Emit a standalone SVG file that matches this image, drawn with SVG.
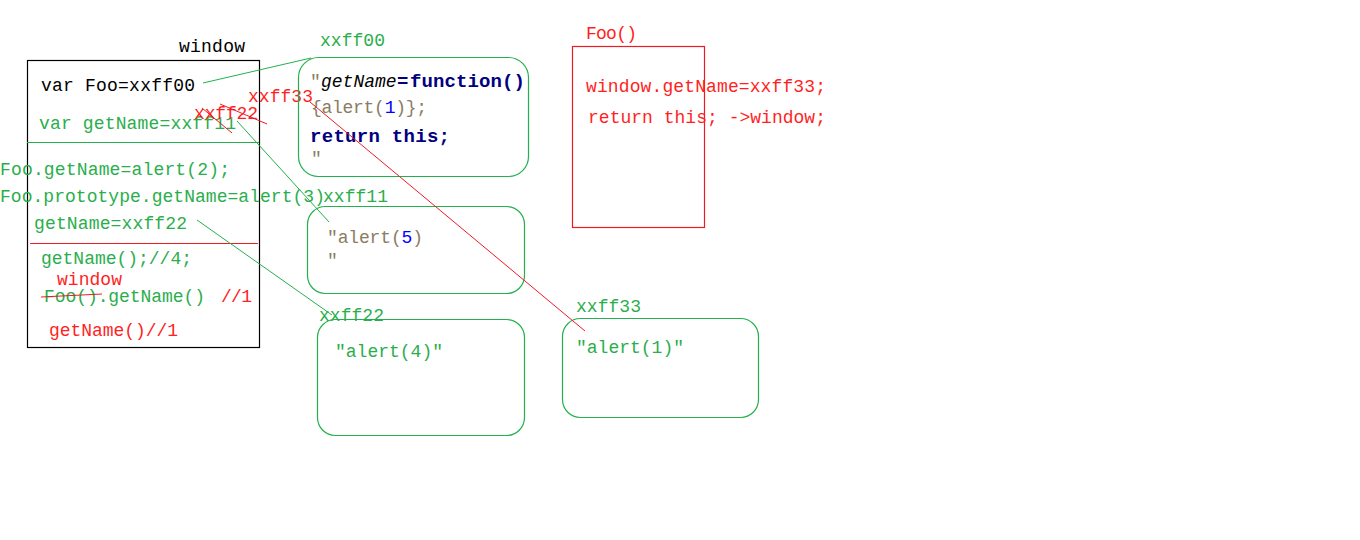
<svg xmlns="http://www.w3.org/2000/svg" width="1360" height="540" viewBox="0 0 1360 540">
<style>
text{font-family:"Liberation Mono","DejaVu Sans Mono",monospace;font-size:18px}
.k{fill:#000000}
.g{fill:#2aae4c}
.r{fill:#ff1f1f}
.nv{fill:#000080;font-weight:bold;font-size:19px}
.tan{fill:#8a7c62}
.bl{fill:#0000ff}
.gbox{fill:none;stroke:#22b14c;stroke-width:1.2}
.rbox{fill:none;stroke:#ed1c24;stroke-width:1.2}
.kbox{fill:none;stroke:#000;stroke-width:1.2}
.gl{stroke:#22b14c;stroke-width:1;fill:none}
.rl{stroke:#ed1c24;stroke-width:1;fill:none}
</style>
<rect width="1360" height="540" fill="#ffffff"/>

<g id="window">
  <text class="k" x="179" y="52" textLength="66" lengthAdjust="spacing">window</text>
  <rect class="kbox" x="27.5" y="60.5" width="232" height="287"/>
  <text class="k" x="41" y="91" textLength="154" lengthAdjust="spacing">var Foo=xxff00</text>
  <text class="g" x="39" y="129" textLength="197" lengthAdjust="spacing">var getName=xxff11</text>
  <line class="gl" x1="27" y1="142.5" x2="259" y2="142.5"/>
  <text class="g" x="0" y="175" textLength="230" lengthAdjust="spacing">Foo.getName=alert(2);</text>
  <text class="g" x="0" y="202" textLength="325" lengthAdjust="spacing">Foo.prototype.getName=alert(3)</text>
  <text class="g" x="34" y="229" textLength="153" lengthAdjust="spacing">getName=xxff22</text>
  <line class="rl" x1="30" y1="243.5" x2="258" y2="243.5"/>
  <text class="g" x="41" y="264" textLength="151" lengthAdjust="spacing">getName();//4;</text>
  <text class="r" x="57" y="285" textLength="65" lengthAdjust="spacing">window</text>
  <text class="g" x="44" y="302" textLength="161" lengthAdjust="spacing">Foo().getName()</text>
  <line class="rl" x1="41" y1="297" x2="102" y2="294" stroke-width="1.5"/>
  <text class="r" x="221" y="302" textLength="31" lengthAdjust="spacing">//1</text>
  <text class="r" x="49" y="336" textLength="129" lengthAdjust="spacing">getName()//1</text>
</g>

<g id="annotations">
  <text class="r" x="194" y="119" textLength="64" lengthAdjust="spacing">xxff22</text>
  <text class="r" x="248" y="102" textLength="65" lengthAdjust="spacing">xxff33</text>
  <line class="rl" x1="220" y1="104" x2="267" y2="124"/>
  <line class="rl" x1="202" y1="108" x2="232" y2="133"/>
</g>

<g id="xxff00">
  <text class="g" x="320" y="46" textLength="65" lengthAdjust="spacing">xxff00</text>
  <rect class="gbox" x="298.5" y="57.5" width="230" height="119" rx="20" ry="20"/>
  <text x="310" y="87"><tspan class="tan">″</tspan><tspan class="k" x="321" font-style="italic">getName</tspan><tspan class="nv" x="397">=</tspan><tspan class="nv" x="410" textLength="115" lengthAdjust="spacing">function()</tspan></text>
  <text x="311" y="113" textLength="116" lengthAdjust="spacing"><tspan class="tan">{alert(</tspan><tspan class="bl">1</tspan><tspan class="tan">)};</tspan></text>
  <text class="nv" x="310" y="142" textLength="140" lengthAdjust="spacing">return this;</text>
  <text class="tan" x="311" y="164">″</text>
</g>

<g id="xxff11">
  <text class="g" x="323" y="202" textLength="65" lengthAdjust="spacing">xxff11</text>
  <rect class="gbox" x="307.5" y="206.5" width="217" height="87" rx="18" ry="18"/>
  <text x="327" y="243" textLength="96" lengthAdjust="spacing"><tspan class="tan">″alert(</tspan><tspan class="bl">5</tspan><tspan class="tan">)</tspan></text>
  <text class="tan" x="327" y="266">″</text>
</g>

<g id="xxff22">
  <text class="g" x="319" y="321" textLength="65" lengthAdjust="spacing">xxff22</text>
  <rect class="gbox" x="317.5" y="319.5" width="207" height="116" rx="18" ry="18"/>
  <text class="g" x="335" y="357" textLength="108" lengthAdjust="spacing">″alert(4)″</text>
</g>

<g id="xxff33">
  <text class="g" x="576" y="312" textLength="65" lengthAdjust="spacing">xxff33</text>
  <rect class="gbox" x="562.5" y="318.5" width="196" height="99" rx="18" ry="18"/>
  <text class="g" x="576" y="353" textLength="108" lengthAdjust="spacing">″alert(1)″</text>
</g>

<g id="Foo">
  <text class="r" x="586" y="39" textLength="51" lengthAdjust="spacing">Foo()</text>
  <rect class="rbox" x="572.5" y="46.5" width="132" height="181"/>
  <text class="r" x="586" y="92" textLength="240" lengthAdjust="spacing">window.getName=xxff33;</text>
  <text class="r" x="588" y="123" textLength="238" lengthAdjust="spacing">return this; -&gt;window;</text>
</g>

<g id="connectors">
  <line class="gl" x1="203" y1="83" x2="311" y2="58"/>
  <line class="gl" x1="237" y1="121" x2="329" y2="222"/>
  <line class="gl" x1="197" y1="220" x2="332" y2="315"/>
  <line class="rl" x1="310" y1="102" x2="585" y2="331"/>
</g>
</svg>
